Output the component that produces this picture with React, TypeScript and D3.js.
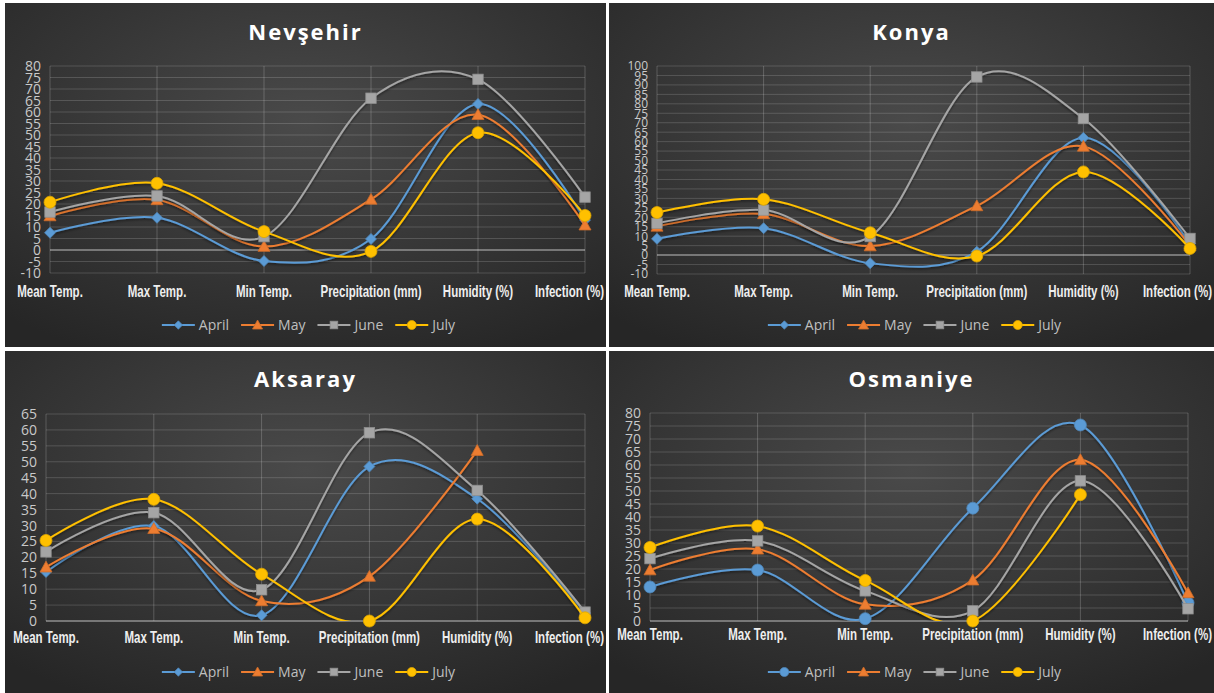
import React from 'react';
import * as d3 from 'd3';

const categories = ['Mean Temp.', 'Max Temp.', 'Min Temp.', 'Precipitation (mm)', 'Humidity (%)', 'Infection (%)'];
const seriesNames = ['April', 'May', 'June', 'July'];
const seriesColors = ['#5B9BD5', '#ED7D31', '#A5A5A5', '#FFC000'];

type V = number | null;

const nevsehirApril: V[] = [7.5, 14, -4.8, 4.8, 63.5, 13];
const nevsehirMay: V[] = [14.8, 21.8, 1.5, 22, 58.8, 10.8];
const nevsehirJune: V[] = [16.5, 23.5, 5.8, 66, 74.2, 23];
const nevsehirJuly: V[] = [20.8, 29, 8, -0.6, 51, 15];

const konyaApril: V[] = [8.6, 14.2, -4.3, 1.8, 62, 6];
const konyaMay: V[] = [15.2, 21.8, 4.8, 26, 57.5, 5];
const konyaJune: V[] = [16.8, 23.8, 9.8, 94.2, 72.2, 8.8];
const konyaJuly: V[] = [22.5, 29.5, 11.8, -0.5, 44, 3.5];

const aksarayApril: V[] = [15.4, 29.8, 1.8, 48.5, 38.4, 2.5];
const aksarayMay: V[] = [16.9, 29, 6.3, 14, 53.5, null];
const aksarayJune: V[] = [21.7, 34, 9.8, 59.1, 41, 2.8];
const aksarayJuly: V[] = [25.3, 38.2, 14.7, 0, 32, 1];

const osmaniyeApril: V[] = [13.1, 19.6, 0.9, 43.4, 75.4, 7];
const osmaniyeMay: V[] = [19.6, 27.6, 6.4, 15.7, 62, 10.8];
const osmaniyeJune: V[] = [24, 30.8, 11.6, 3.9, 53.9, 4.7];
const osmaniyeJuly: V[] = [28.3, 36.5, 15.6, 0, 48.6, null];

const nevsehirTicks = [-10, -5, 0, 5, 10, 15, 20, 25, 30, 35, 40, 45, 50, 55, 60, 65, 70, 75, 80];
const konyaTicks = [-10, -5, 0, 5, 10, 15, 20, 25, 30, 35, 40, 45, 50, 55, 60, 65, 70, 75, 80, 85, 90, 95, 100];
const aksarayTicks = [0, 5, 10, 15, 20, 25, 30, 35, 40, 45, 50, 55, 60, 65];
const osmaniyeTicks = [0, 5, 10, 15, 20, 25, 30, 35, 40, 45, 50, 55, 60, 65, 70, 75, 80];

type Shape = 'diamond' | 'triangle' | 'square' | 'circle';

interface Cfg {
  id: string;
  title: string;
  series: V[][];
  ticks: number[];
  aprilShape: Shape;
  panel: { x: number; y: number; w: number; h: number };
  plot: { l: number; r: number; t: number; b: number };
  tickSize: number;
  titleY: number;
  catY: number;
  legendY: number;
}

const charts: Cfg[] = [
  {
    id: 'nev', title: 'Nevşehir', series: [nevsehirApril, nevsehirMay, nevsehirJune, nevsehirJuly],
    ticks: nevsehirTicks, aprilShape: 'diamond',
    panel: { x: 5, y: 3, w: 601, h: 344 }, plot: { l: 50, r: 585, t: 66, b: 273 },
    tickSize: 14, titleY: 40, catY: 297, legendY: 325,
  },
  {
    id: 'kon', title: 'Konya', series: [konyaApril, konyaMay, konyaJune, konyaJuly],
    ticks: konyaTicks, aprilShape: 'diamond',
    panel: { x: 609, y: 3, w: 605, h: 344 }, plot: { l: 657, r: 1190, t: 66, b: 274 },
    tickSize: 12, titleY: 40, catY: 297, legendY: 325,
  },
  {
    id: 'aks', title: 'Aksaray', series: [aksarayApril, aksarayMay, aksarayJune, aksarayJuly],
    ticks: aksarayTicks, aprilShape: 'diamond',
    panel: { x: 5, y: 351, w: 601, h: 342 }, plot: { l: 46, r: 585, t: 414, b: 621 },
    tickSize: 14, titleY: 387, catY: 643, legendY: 672,
  },
  {
    id: 'osm', title: 'Osmaniye', series: [osmaniyeApril, osmaniyeMay, osmaniyeJune, osmaniyeJuly],
    ticks: osmaniyeTicks, aprilShape: 'circle',
    panel: { x: 609, y: 351, w: 605, h: 342 }, plot: { l: 650, r: 1188, t: 413, b: 621 },
    tickSize: 14, titleY: 387, catY: 640, legendY: 672,
  },
];

const FONT = "'Open Sans', 'Liberation Sans', sans-serif";
const CAT_FONT = "'Liberation Sans', Arial, sans-serif";
const CAT_SCALE = 0.72;
const CAT_SIZE = 16;

let ctx: CanvasRenderingContext2D | null = null;
function measure(text: string, font: string): number {
  if (!ctx) ctx = document.createElement('canvas').getContext('2d');
  if (!ctx) return text.length * 7;
  ctx.font = font;
  return ctx.measureText(text).width;
}

function Marker({ shape, x, y, color, s }: { shape: Shape; x: number; y: number; color: string; s: number }) {
  const stroke = d3.color(color)!.darker(0.4).toString();
  const common = { fill: color, stroke, strokeWidth: 0.8 };
  if (shape === 'diamond')
    return <path d={`M${x},${y - s}L${x + s},${y}L${x},${y + s}L${x - s},${y}Z`} {...common} />;
  if (shape === 'triangle')
    return <path d={`M${x},${y - s}L${x + s},${y + s * 0.8}L${x - s},${y + s * 0.8}Z`} {...common} />;
  if (shape === 'square')
    return <rect x={x - s} y={y - s} width={2 * s} height={2 * s} {...common} />;
  return <circle cx={x} cy={y} r={s} {...common} />;
}

function Chart({ cfg }: { cfg: Cfg }) {
  const { panel, plot } = cfg;
  const x = d3.scalePoint<string>().domain(categories).range([plot.l, plot.r]);
  const dom = d3.extent(cfg.ticks) as [number, number];
  const y = d3.scaleLinear().domain(dom).range([plot.b, plot.t]);
  const shapes: Shape[] = [cfg.aprilShape, 'triangle', 'square', 'circle'];
  const markerSize: Record<Shape, number> = { diamond: 5.5, triangle: 6, square: 5.2, circle: 6 };
  const legendSize: Record<Shape, number> = { diamond: 4.2, triangle: 5, square: 3.8, circle: 4.5 };

  const line = d3
    .line<[string, V]>()
    .defined((d) => d[1] != null)
    .x((d) => x(d[0])!)
    .y((d) => y(d[1] as number))
    .curve(d3.curveCatmullRom.alpha(0));

  const panelRight = panel.x + panel.w;
  const catFont = `bold ${CAT_SIZE}px ${CAT_FONT}`;

  const legendFont = `14px ${FONT}`;
  const lineLen = 33;
  const items = seriesNames.map((n) => ({ n, w: measure(n, legendFont) }));
  const total = items.reduce((a, it) => a + lineLen + 4 + it.w, 0) + 12 * (items.length - 1);
  let lx = panel.x + panel.w / 2 + 3 - total / 2;
  const legendItems = items.map((it, i) => {
    const start = lx;
    lx += lineLen + 4 + it.w + 12;
    return { ...it, start, i };
  });

  return (
    <g>
      <rect x={panel.x} y={panel.y} width={panel.w} height={panel.h} fill="url(#panelGrad)" />
      <text
        x={panel.x + panel.w / 2}
        y={cfg.titleY}
        textAnchor="middle"
        fill="#ffffff"
        fontFamily={FONT}
        fontWeight={700}
        fontSize={22}
        letterSpacing={2}
      >
        {cfg.title}
      </text>
      {cfg.ticks.map((t) => (
        <line
          key={'h' + t}
          x1={plot.l}
          x2={plot.r}
          y1={y(t)}
          y2={y(t)}
          stroke={t === 0 ? '#9a9a9a' : '#ffffff'}
          strokeOpacity={t === 0 ? 0.9 : 0.16}
          strokeWidth={t === 0 ? 1.5 : 1}
        />
      ))}
      {categories.map((c) => (
        <line key={'v' + c} x1={x(c)} x2={x(c)} y1={plot.t} y2={plot.b} stroke="#ffffff" strokeOpacity={0.2} strokeWidth={1} />
      ))}
      {cfg.ticks.map((t) => (
        <text
          key={'t' + t}
          x={plot.l - 9}
          y={y(t)}
          dy="0.36em"
          textAnchor="end"
          fill="#c9c9c9"
          fontFamily={FONT}
          fontSize={cfg.tickSize}
        >
          {t}
        </text>
      ))}
      {categories.map((c) => {
        const w = measure(c, catFont) * CAT_SCALE;
        let cx = x(c)!;
        if (cx + w / 2 > panelRight - 2) cx = panelRight - 2 - w / 2;
        if (cx - w / 2 < panel.x + 4) cx = panel.x + 4 + w / 2;
        return (
          <text
            key={'c' + c}
            transform={`translate(${cx},${cfg.catY}) scale(${CAT_SCALE},1)`}
            textAnchor="middle"
            fill="#eeeeee"
            fontFamily={CAT_FONT}
            fontWeight={700}
            fontSize={CAT_SIZE}
          >
            {c}
          </text>
        );
      })}
      <clipPath id={'clip-' + cfg.id}>
        <rect x={plot.l - 10} y={plot.t - 2} width={plot.r - plot.l + 20} height={plot.b - plot.t + 2} />
      </clipPath>
      {cfg.series.map((vals, si) => {
        const pts = categories.map((c, i) => [c, vals[i]] as [string, V]);
        return (
          <g key={'s' + si}>
            <g clipPath={`url(#clip-${cfg.id})`}>
              <path d={line(pts) || ''} fill="none" stroke={seriesColors[si]} strokeWidth={2} filter="url(#shadow)" />
            </g>
            {pts
              .filter((p) => p[1] != null)
              .map((p) => (
                <Marker
                  key={p[0]}
                  shape={shapes[si]}
                  x={x(p[0])!}
                  y={y(p[1] as number)}
                  color={seriesColors[si]}
                  s={markerSize[shapes[si]]}
                />
              ))}
          </g>
        );
      })}
      {legendItems.map((it) => (
        <g key={'l' + it.n}>
          <line
            x1={it.start}
            x2={it.start + lineLen}
            y1={cfg.legendY}
            y2={cfg.legendY}
            stroke={seriesColors[it.i]}
            strokeWidth={2}
          />
          <Marker
            shape={shapes[it.i]}
            x={it.start + lineLen / 2}
            y={cfg.legendY}
            color={seriesColors[it.i]}
            s={legendSize[shapes[it.i]]}
          />
          <text
            x={it.start + lineLen + 4}
            y={cfg.legendY}
            dy="0.36em"
            fill="#bfbfbf"
            fontFamily={FONT}
            fontSize={14}
          >
            {it.n}
          </text>
        </g>
      ))}
    </g>
  );
}

export default function App() {
  return (
    <div style={{ position: 'absolute', left: 0, top: 0 }}>
      <svg width={1214} height={693} style={{ display: 'block', background: '#ffffff' }}>
        <defs>
          <radialGradient id="panelGrad" cx="50%" cy="35%" r="75%">
            <stop offset="0%" stopColor="#4a4a4a" />
            <stop offset="100%" stopColor="#262626" />
          </radialGradient>
          <filter id="shadow" x="-5%" y="-20%" width="110%" height="140%">
            <feDropShadow dx="0" dy="1.5" stdDeviation="1" floodColor="#000" floodOpacity="0.5" />
          </filter>
        </defs>
        {charts.map((c) => (
          <Chart key={c.id} cfg={c} />
        ))}
      </svg>
    </div>
  );
}
